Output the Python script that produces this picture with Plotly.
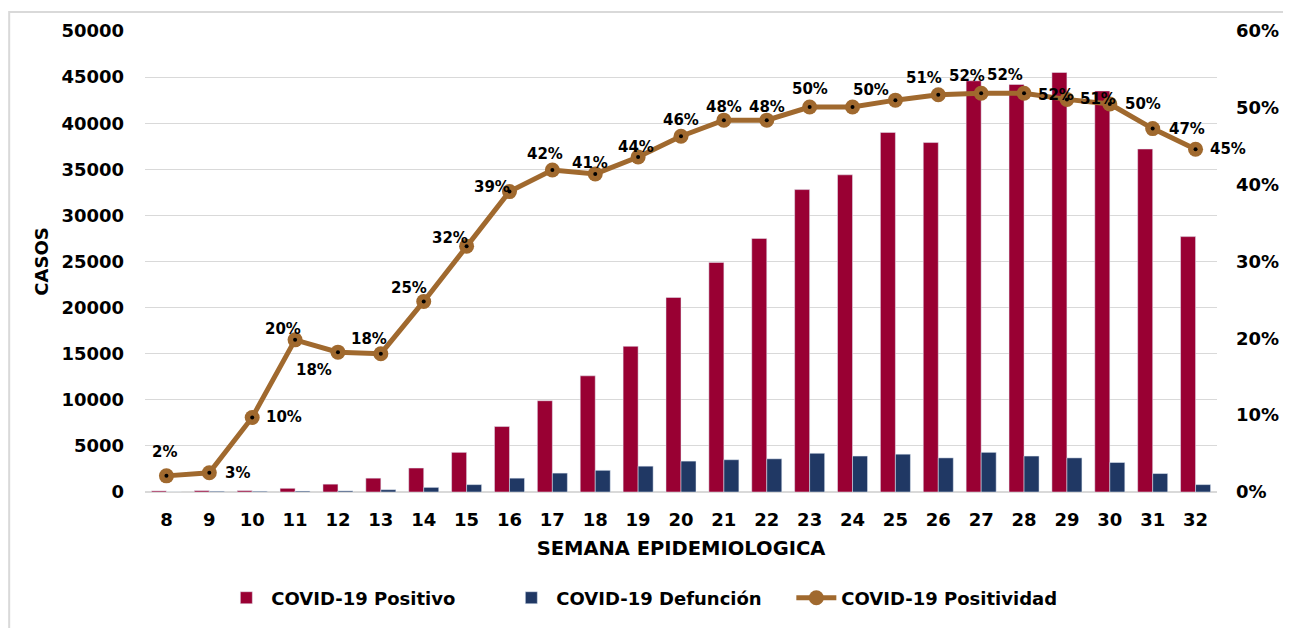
import plotly.graph_objects as go

semanas = list(range(8, 33))
positivo = [120, 150, 150, 400, 850, 1500, 2600, 4300, 7100, 9900, 12600, 15800, 21100,
            24900, 27500, 32800, 34400, 39000, 37900, 44600, 44200, 45500, 43500, 37200, 27700]
defuncion = [0, 80, 80, 100, 120, 250, 500, 800, 1500, 2050, 2350, 2800, 3350,
             3500, 3600, 4200, 3900, 4100, 3700, 4300, 3900, 3700, 3200, 2000, 800]
positividad = [2.1, 2.5, 9.7, 19.8, 18.2, 18.0, 24.8, 32.0, 39.1, 41.9, 41.4, 43.6, 46.3,
               48.4, 48.4, 50.1, 50.1, 51.0, 51.7, 51.9, 51.9, 51.1, 50.5, 47.3, 44.6]
etiquetas = ["2%", "3%", "10%", "20%", "18%", "18%", "25%", "32%", "39%", "42%", "41%", "44%", "46%",
             "48%", "48%", "50%", "50%", "51%", "52%", "52%", "52%", "51%", "50%", "47%", "45%"]

# label offsets (pixels) - style only
dx = [-2, 28, 32, -12, -24, -12, -15, -17, -17, -7, -5, -2, 0, 0, 0, 0, 18, 29, 29, 24, 32, 31, 33, 34, 32]
dy = [24, 0, 0, 11, -18, 15, 13, 8, 5, 16, 11, 10, 16, 13, 13, 18, 17, 22, 19, 18, -2, 0, 0, 0, 0]

FONT = "DejaVu Sans"
RED = "#990033"
NAVY = "#203864"
BROWN = "#A0692E"

fig = go.Figure()
fig.add_trace(go.Bar(x=semanas, y=positivo, name="COVID-19 Positivo", marker_color=RED))
fig.add_trace(go.Bar(x=semanas, y=defuncion, name="COVID-19 Defunción", marker_color=NAVY))
fig.add_trace(go.Scatter(x=semanas, y=positividad, name="COVID-19 Positividad", yaxis="y2",
                         mode="lines+markers", line=dict(color=BROWN, width=5),
                         marker=dict(color=BROWN, size=15)))
fig.add_trace(go.Scatter(x=semanas, y=positividad, yaxis="y2", mode="markers", showlegend=False,
                         hoverinfo="skip", marker=dict(color="black", size=4)))

for s, v, t, a, b in zip(semanas, positividad, etiquetas, dx, dy):
    fig.add_annotation(x=s, y=v, xref="x", yref="y2", text=t, showarrow=False, xshift=a, yshift=b,
                       font=dict(family=FONT, size=15, color="black", weight="bold"))

fig.add_shape(type="rect", xref="paper", yref="paper", x0=-0.1267, x1=1.067, y0=-0.35, y1=1.041,
              line=dict(color="#d9d9d9", width=2), layer="below")

fig.update_layout(
    width=1283, height=620,
    margin=dict(l=137, r=73, t=20, b=136),
    plot_bgcolor="white", paper_bgcolor="white",
    barmode="group", bargap=0.3, bargroupgap=0,
    font=dict(family=FONT, size=18, color="black", weight="bold"),
    xaxis=dict(type="linear", range=[7.5, 32.5], tickmode="array", tickvals=semanas,
               showgrid=False, zeroline=False, ticks="", ticklabelstandoff=15,
               tickfont=dict(size=18, weight="bold"),
               title=dict(text="SEMANA EPIDEMIOLOGICA", font=dict(size=19.5, weight="bold"), standoff=12)),
    yaxis=dict(range=[0, 50000], dtick=5000, showgrid=True, gridcolor="#d9d9d9", gridwidth=1,
               zeroline=True, zerolinecolor="#d9d9d9", tickformat="d", ticklabelstandoff=20,
               tickfont=dict(size=18, weight="bold"),
               title=dict(text="CASOS", font=dict(size=18, weight="bold"), standoff=8)),
    yaxis2=dict(range=[0, 60], dtick=10, overlaying="y", side="right", showgrid=False,
                ticksuffix="%", ticklabelstandoff=18, tickfont=dict(size=18, weight="bold"),
                zeroline=False),
    legend=dict(orientation="h", x=0.47, xanchor="center", y=-0.23, yanchor="middle",
                font=dict(size=18, weight="bold"), itemwidth=40, traceorder="normal",
                entrywidth=230, entrywidthmode="pixels"),
    showlegend=True,
)

fig.write_html("out.html")
